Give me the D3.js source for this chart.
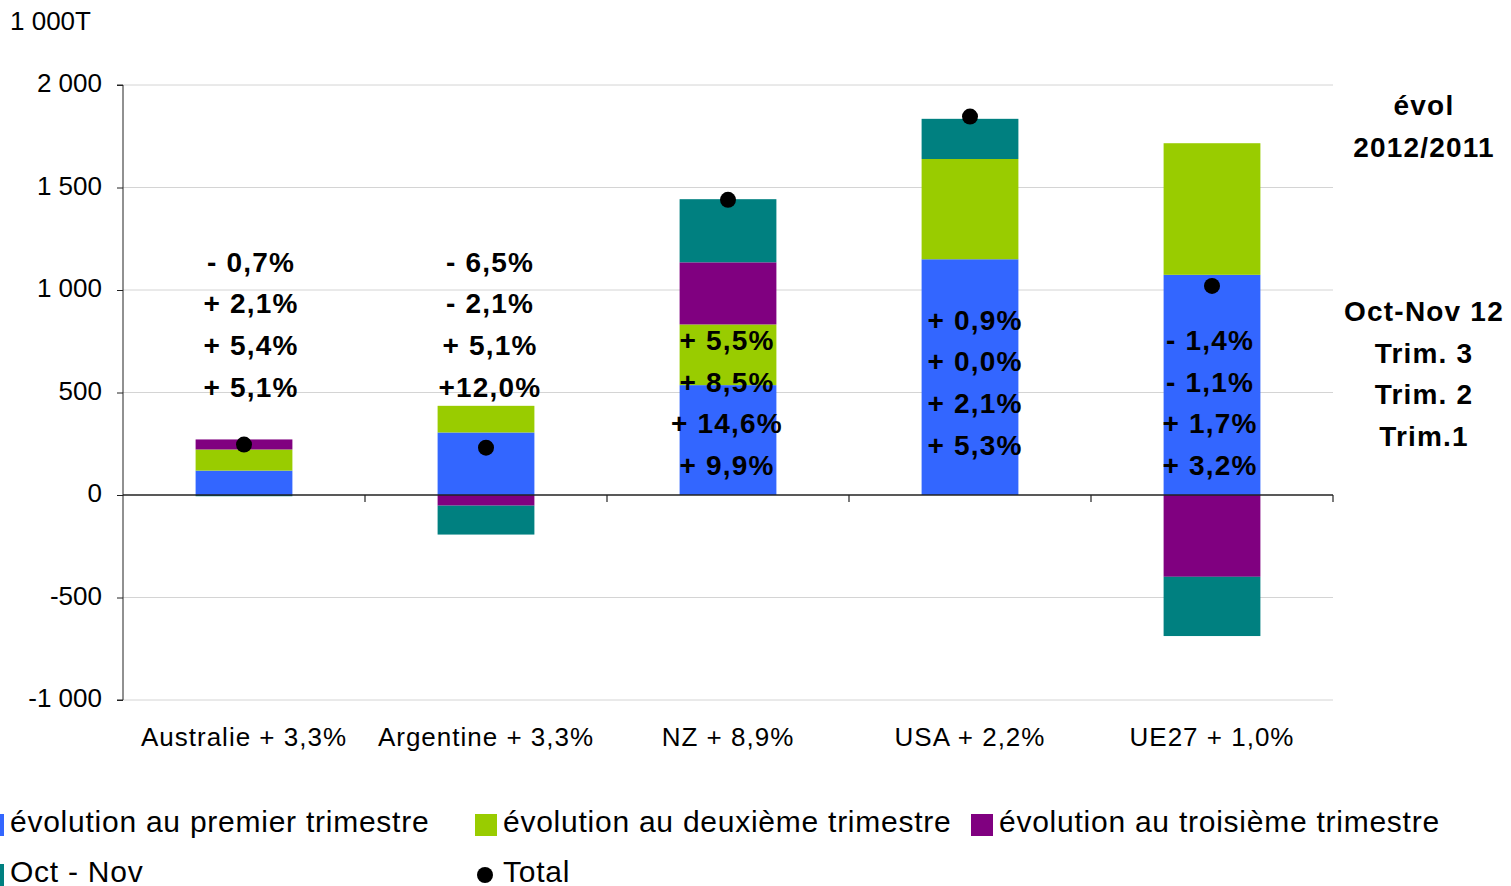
<!DOCTYPE html>
<html lang="fr">
<head>
<meta charset="utf-8">
<script src="https://cdn.jsdelivr.net/npm/d3@7"></script>
<style>
  html, body { margin: 0; padding: 0; background: #ffffff; }
  svg { display: block; font-family: "Liberation Sans", Arial, sans-serif; }
</style>
</head>
<body>
<svg id="chart" width="1511" height="886"></svg>
<script>
// Categories (with the annual evolution shown in the axis label)
const categories = ["Australie + 3,3%", "Argentine + 3,3%", "NZ + 8,9%", "USA + 2,2%", "UE27 + 1,0%"];

// Quarterly changes, thousand tonnes
const trim1  = [119, 305, 536, 1150, 1074];
const trim2  = [103, 130, 296, 489, 642];
const trim3  = [49, -52, 303, 0, -399];
const octNov = [-6, -141, 308, 196, -289];
const total  = [246, 231, 1440, 1846, 1020];

// Evolution 2012/2011 labels, stacked top to bottom: Oct-Nov, Trim. 3, Trim. 2, Trim. 1
const evolOctNov = ["- 0,7%", "- 6,5%", "+ 5,5%", "+ 0,9%", "- 1,4%"];
const evolTrim3  = ["+ 2,1%", "- 2,1%", "+ 8,5%", "+ 0,0%", "- 1,1%"];
const evolTrim2  = ["+ 5,4%", "+ 5,1%", "+ 14,6%", "+ 2,1%", "+ 1,7%"];
const evolTrim1  = ["+ 5,1%", "+12,0%", "+ 9,9%", "+ 5,3%", "+ 3,2%"];
const rowTitles  = ["Oct-Nov 12", "Trim. 3", "Trim. 2", "Trim.1"];

const yTicks = [-1000, -500, 0, 500, 1000, 1500, 2000];
const yTickLabels = ["-1 000", "-500", "0", "500", "1 000", "1 500", "2 000"];

const seriesKeys   = ["trim1", "trim2", "trim3", "octNov"];
const seriesNames  = ["évolution au premier trimestre", "évolution au deuxième trimestre",
                      "évolution au troisième trimestre", "Oct - Nov"];
const seriesColors = ["#3366ff", "#99cc00", "#800080", "#008080"];

// Layout
const plot = { left: 123, right: 1333, top: 85, bottom: 700 };
const labelTop = [1137, 1137, 756, 854, 756]; // vertical anchor (data units) of each label column
const labelShift = [7, 4, -1, 5, -2];         // small horizontal nudges of the label columns
const lineGap = 41.7;
const FONT = "'Liberation Sans', Arial, sans-serif";

const svg = d3.select("#chart");

const x = d3.scaleBand().domain(categories).range([plot.left, plot.right]).padding(0);
const y = d3.scaleLinear().domain([-1000, 2000]).range([plot.bottom, plot.top]);
const barW = x.bandwidth() * 0.4;

// Gridlines
svg.append("g").selectAll("line")
  .data(yTicks.filter(v => v !== 0))
  .join("line")
  .attr("x1", plot.left).attr("x2", plot.right)
  .attr("y1", d => y(d)).attr("y2", d => y(d))
  .attr("stroke", "#d4d4d4").attr("stroke-width", 1);

// Stacked bars
const table = categories.map((c, i) => ({
  cat: c, trim1: trim1[i], trim2: trim2[i], trim3: trim3[i], octNov: octNov[i]
}));
const stacked = d3.stack().keys(seriesKeys).offset(d3.stackOffsetDiverging)(table);

svg.append("g").selectAll("g")
  .data(stacked)
  .join("g")
  .attr("fill", (d, i) => seriesColors[i])
  .selectAll("rect")
  .data(d => d)
  .join("rect")
  .attr("x", d => x(d.data.cat) + (x.bandwidth() - barW) / 2)
  .attr("width", barW)
  .attr("y", d => y(Math.max(d[0], d[1])))
  .attr("height", d => Math.abs(y(d[0]) - y(d[1])));

// Y axis
const yAxis = d3.axisLeft(y)
  .tickValues(yTicks)
  .tickFormat((d, i) => yTickLabels[i])
  .tickSize(6)
  .tickPadding(15);
const gy = svg.append("g").attr("transform", `translate(${plot.left},0)`).call(yAxis);
gy.select(".domain").attr("stroke", "#222").attr("d", `M-6,${y(2000)}H0V${y(-1000)}H-6`);
gy.selectAll(".tick line").attr("stroke", "#222");
gy.selectAll(".tick text").attr("font-size", 26).attr("fill", "#000")
  .attr("font-family", FONT).attr("dy", "0.25em");

// Zero line with category tick marks
svg.append("line")
  .attr("x1", plot.left).attr("x2", plot.right)
  .attr("y1", y(0)).attr("y2", y(0))
  .attr("stroke", "#222").attr("stroke-width", 1.5);
const bounds = categories.map(c => x(c) + x.bandwidth());
svg.append("g").selectAll("line")
  .data(bounds)
  .join("line")
  .attr("x1", d => d).attr("x2", d => d)
  .attr("y1", y(0)).attr("y2", y(0) + 7)
  .attr("stroke", "#222").attr("stroke-width", 1.2);

// Category labels
svg.append("g").selectAll("text")
  .data(categories)
  .join("text")
  .attr("x", d => x(d) + x.bandwidth() / 2)
  .attr("y", 737)
  .attr("dy", "0.35em")
  .attr("text-anchor", "middle")
  .attr("font-family", FONT)
  .attr("font-size", 26)
  .attr("letter-spacing", "1px")
  .text(d => d);

// Total markers
svg.append("g").selectAll("circle")
  .data(total)
  .join("circle")
  .attr("cx", (d, i) => x(categories[i]) + x.bandwidth() / 2)
  .attr("cy", d => y(d))
  .attr("r", 8)
  .attr("fill", "#000");

// Evolution labels on each bar
const evolRows = [evolOctNov, evolTrim3, evolTrim2, evolTrim1];
const lab = svg.append("g")
  .attr("font-family", FONT)
  .attr("font-size", 28).attr("font-weight", "bold").attr("letter-spacing", "1.2px")
  .attr("text-anchor", "middle");
categories.forEach((c, i) => {
  evolRows.forEach((row, r) => {
    lab.append("text")
      .attr("x", x(c) + x.bandwidth() / 2 + labelShift[i])
      .attr("y", y(labelTop[i]) + r * lineGap)
      .attr("dy", "0.35em")
      .text(row[i]);
  });
});

// Right-hand row titles
const right = svg.append("g")
  .attr("font-family", FONT)
  .attr("font-size", 28).attr("font-weight", "bold").attr("letter-spacing", "1.2px")
  .attr("text-anchor", "middle");
right.append("text").attr("x", 1424).attr("y", 105).attr("dy", "0.35em").text("évol");
right.append("text").attr("x", 1424).attr("y", 147).attr("dy", "0.35em").text("2012/2011");
rowTitles.forEach((t, r) => {
  right.append("text").attr("x", 1424).attr("y", 311 + r * lineGap).attr("dy", "0.35em").text(t);
});

// Unit label
svg.append("text").attr("x", 10).attr("y", 21).attr("dy", "0.35em")
  .attr("font-family", FONT).attr("font-size", 26).text("1 000T");

// Legend
const legendItems = [
  { name: seriesNames[0], color: seriesColors[0], x: 10,  y: 821, type: "rect" },
  { name: seriesNames[1], color: seriesColors[1], x: 503, y: 821, type: "rect" },
  { name: seriesNames[2], color: seriesColors[2], x: 999, y: 821, type: "rect" },
  { name: seriesNames[3], color: seriesColors[3], x: 10,  y: 871, type: "rect" },
  { name: "Total",        color: "#000",          x: 503, y: 871, type: "dot" }
];
const lg = svg.append("g");
legendItems.forEach(it => {
  if (it.type === "rect") {
    lg.append("rect").attr("x", it.x - 28).attr("y", it.y - 7).attr("width", 22).attr("height", 22)
      .attr("fill", it.color);
  } else {
    lg.append("circle").attr("cx", it.x - 18).attr("cy", it.y + 4).attr("r", 8).attr("fill", it.color);
  }
  lg.append("text").attr("x", it.x).attr("y", it.y).attr("dy", "0.35em")
    .attr("font-family", FONT)
    .attr("font-size", 30).attr("letter-spacing", "0.75px").text(it.name);
});
</script>
</body>
</html>
